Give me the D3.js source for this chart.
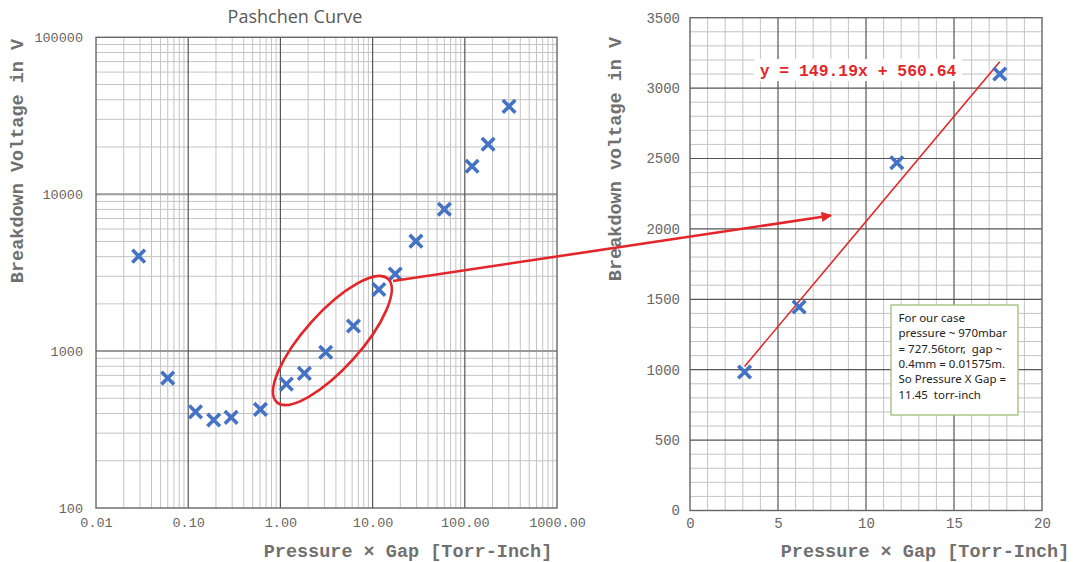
<!DOCTYPE html>
<html>
<head>
<meta charset="utf-8">
<script src="https://cdn.jsdelivr.net/npm/d3@7/dist/d3.min.js"></script>
<style>
  html, body { margin: 0; padding: 0; background: #fff; }
  svg { display: block; }
</style>
</head>
<body>
<svg id="chart" width="1073" height="562"></svg>
<script>
// ---------- DATA ----------
const pdValues = [0.029, 0.06, 0.12, 0.189, 0.292, 0.607, 1.16, 1.82, 3.1, 6.2, 11.7, 17.6, 29.5, 60, 120, 179, 302];
const voltValues = [4030, 673, 410, 364, 378, 425, 616, 721, 984, 1445, 2470, 3100, 5020, 8020, 15070, 20800, 36300];

const zoomPd = [3.1, 6.2, 11.75, 17.6];
const zoomVolt = [984, 1445, 2470, 3100];

const fitSlope = 149.19;
const fitIntercept = 560.64;

const leftXTicks = [0.01, 0.1, 1, 10, 100, 1000];
const leftXTickLabels = ["0.01", "0.10", "1.00", "10.00", "100.00", "1000.00"];
const leftYTicks = [100, 1000, 10000, 100000];
const leftYTickLabels = ["100", "1000", "10000", "100000"];
const rightXTicks = [0, 5, 10, 15, 20];
const rightYTicks = [0, 500, 1000, 1500, 2000, 2500, 3000, 3500];

const chartTitle = "Pashchen Curve";
const xTitle = "Pressure \u00d7 Gap [Torr-Inch]";
const leftYTitle = "Breakdown Voltage in V";
const rightYTitle = "Breakdown voltage in V";
const equationText = "y = 149.19x + 560.64";
const noteLines = ["For our case", "pressure ~ 970mbar", "= 727.56torr,  gap ~", "0.4mm = 0.01575m.", "So Pressure X Gap =", "11.45  torr-inch"];

// ---------- SETUP ----------
const svg = d3.select("#chart");
const BLUE = "#4472c4", RED = "#e3262a";
const MONO = "'Liberation Mono', 'Courier New', monospace";

const defs = svg.append("defs");
defs.append("marker").attr("id", "arrow")
  .attr("viewBox", "0 0 10 10").attr("refX", 9).attr("refY", 5)
  .attr("markerWidth", 4.5).attr("markerHeight", 4).attr("markerUnits", "strokeWidth")
  .attr("orient", "auto")
  .append("path").attr("d", "M0,0 L10,5 L0,10 z").attr("fill", RED);

function drawX(g, data, xs, ys) {
  const s = 6.3;
  g.selectAll("path.mk").data(data).join("path").attr("class", "mk")
    .attr("d", d => {
      const x = xs(d[0]), y = ys(d[1]);
      return `M${x - s},${y - s}L${x + s},${y + s}M${x - s},${y + s}L${x + s},${y - s}`;
    })
    .attr("stroke", BLUE).attr("stroke-width", 3.6).attr("fill", "none");
}

// ---------- LEFT CHART (log-log) ----------
const lx = d3.scaleLog().domain([0.01, 1000]).range([96, 557]);
const ly = d3.scaleLog().domain([100, 100000]).range([508, 37.3]);

const L = svg.append("g");
const minorX = [], minorY = [];
[0.01, 0.1, 1, 10, 100].forEach(d => { for (let k = 2; k <= 9; k++) minorX.push(d * k); });
[100, 1000, 10000].forEach(d => { for (let k = 2; k <= 9; k++) minorY.push(d * k); });

L.selectAll("line.mnx").data(minorX).join("line")
  .attr("x1", d => lx(d)).attr("x2", d => lx(d)).attr("y1", ly(100)).attr("y2", ly(100000))
  .attr("stroke", "#c4c4c4").attr("stroke-width", 1);
L.selectAll("line.mny").data(minorY).join("line")
  .attr("y1", d => ly(d)).attr("y2", d => ly(d)).attr("x1", lx(0.01)).attr("x2", lx(1000))
  .attr("stroke", "#c4c4c4").attr("stroke-width", 1);
L.selectAll("line.mjy").data([1000, 10000]).join("line")
  .attr("y1", d => ly(d)).attr("y2", d => ly(d)).attr("x1", lx(0.01)).attr("x2", lx(1000))
  .attr("stroke", "#9a9a9a").attr("stroke-width", 2);
L.selectAll("line.mjx").data([0.1, 1, 10, 100]).join("line")
  .attr("x1", d => lx(d)).attr("x2", d => lx(d)).attr("y1", ly(100)).attr("y2", ly(100000))
  .attr("stroke", "#555").attr("stroke-width", 1.2);
L.append("rect").attr("x", lx(0.01)).attr("y", ly(100000))
  .attr("width", lx(1000) - lx(0.01)).attr("height", ly(100) - ly(100000))
  .attr("fill", "none").attr("stroke", "#666").attr("stroke-width", 1.4);

const lxAxis = L.append("g").attr("transform", `translate(0,${ly(100)})`)
  .call(d3.axisBottom(lx).tickValues(leftXTicks).tickSize(0).tickPadding(9)
    .tickFormat((d, i) => leftXTickLabels[i]));
const lyAxis = L.append("g").attr("transform", `translate(${lx(0.01)},0)`)
  .call(d3.axisLeft(ly).tickValues(leftYTicks).tickSize(0).tickPadding(13)
    .tickFormat((d, i) => leftYTickLabels[i]));
[lxAxis, lyAxis].forEach(a => {
  a.select(".domain").remove();
  a.selectAll("text").attr("font-family", MONO).attr("font-size", 13.5).attr("fill", "#666");
});

drawX(L.append("g"), pdValues.map((d, i) => [d, voltValues[i]]), lx, ly);

L.append("text").attr("x", 295).attr("y", 23).attr("text-anchor", "middle")
  .attr("font-family", "'Open Sans', sans-serif").attr("font-size", 18).attr("fill", "#595959")
  .text(chartTitle);
L.append("text").attr("x", 408).attr("y", 557).attr("text-anchor", "middle")
  .attr("font-family", MONO).attr("font-weight", "bold").attr("font-size", 18.5).attr("fill", "#707070")
  .text(xTitle);
L.append("text").attr("transform", "translate(23,161) rotate(-90)").attr("text-anchor", "middle")
  .attr("font-family", MONO).attr("font-weight", "bold").attr("font-size", 18.5).attr("fill", "#707070")
  .text(leftYTitle);

// ---------- RIGHT CHART (linear) ----------
const rx = d3.scaleLinear().domain([0, 20]).range([690, 1042]);
const ry = d3.scaleLinear().domain([0, 3500]).range([510.5, 17.7]);
const R = svg.append("g");

R.selectAll("line.mnx").data(d3.range(1, 20).filter(d => d % 5 !== 0)).join("line")
  .attr("x1", d => rx(d)).attr("x2", d => rx(d)).attr("y1", ry(0)).attr("y2", ry(3500))
  .attr("stroke", "#c4c4c4").attr("stroke-width", 1);
R.selectAll("line.mny").data(d3.range(100, 3500, 100).filter(d => d % 500 !== 0)).join("line")
  .attr("y1", d => ry(d)).attr("y2", d => ry(d)).attr("x1", rx(0)).attr("x2", rx(20))
  .attr("stroke", "#c4c4c4").attr("stroke-width", 1);
R.selectAll("line.mjx").data([5, 10, 15]).join("line")
  .attr("x1", d => rx(d)).attr("x2", d => rx(d)).attr("y1", ry(0)).attr("y2", ry(3500))
  .attr("stroke", "#555").attr("stroke-width", 1.2);
R.selectAll("line.mjy").data([500, 1000, 1500, 2000, 2500, 3000]).join("line")
  .attr("y1", d => ry(d)).attr("y2", d => ry(d)).attr("x1", rx(0)).attr("x2", rx(20))
  .attr("stroke", "#555").attr("stroke-width", 1.2);
R.append("rect").attr("x", rx(0)).attr("y", ry(3500))
  .attr("width", rx(20) - rx(0)).attr("height", ry(0) - ry(3500))
  .attr("fill", "none").attr("stroke", "#666").attr("stroke-width", 1.4);

const rxAxis = R.append("g").attr("transform", `translate(0,${ry(0)})`)
  .call(d3.axisBottom(rx).tickValues(rightXTicks).tickSize(0).tickPadding(8).tickFormat(d3.format("d")));
const ryAxis = R.append("g").attr("transform", `translate(${rx(0)},0)`)
  .call(d3.axisLeft(ry).tickValues(rightYTicks).tickSize(0).tickPadding(10).tickFormat(d3.format("d")));
[rxAxis, ryAxis].forEach(a => {
  a.select(".domain").remove();
  a.selectAll("text").attr("font-family", MONO).attr("font-size", 14).attr("fill", "#666");
});

// trendline
const xMin = d3.min(zoomPd), xMax = d3.max(zoomPd);
R.append("line")
  .attr("x1", rx(xMin)).attr("y1", ry(fitSlope * xMin + fitIntercept))
  .attr("x2", rx(xMax)).attr("y2", ry(fitSlope * xMax + fitIntercept))
  .attr("stroke", RED).attr("stroke-width", 1.6);

drawX(R.append("g"), zoomPd.map((d, i) => [d, zoomVolt[i]]), rx, ry);

// equation label
R.append("rect").attr("x", 754).attr("y", 59).attr("width", 208).attr("height", 22).attr("fill", "#fff");
R.append("text").attr("x", 858).attr("y", 75.5).attr("text-anchor", "middle")
  .attr("font-family", MONO).attr("font-weight", "bold").attr("font-size", 16.4).attr("fill", RED)
  .text(equationText);

// note box
R.append("rect").attr("x", 891).attr("y", 305).attr("width", 127).attr("height", 110)
  .attr("fill", "#fff").attr("stroke", "#9dbf7a").attr("stroke-width", 1.3);
R.append("g").selectAll("text").data(noteLines).join("text")
  .attr("x", 898.5).attr("y", (d, i) => 322 + i * 15.3)
  .attr("font-family", "'Noto Sans', sans-serif").attr("font-size", 11.5).attr("fill", "#222")
  .attr("xml:space", "preserve").style("white-space", "pre")
  .text(d => d);

R.append("text").attr("x", 925).attr("y", 557).attr("text-anchor", "middle")
  .attr("font-family", MONO).attr("font-weight", "bold").attr("font-size", 18.5).attr("fill", "#707070")
  .text(xTitle);
R.append("text").attr("transform", "translate(621,159) rotate(-90)").attr("text-anchor", "middle")
  .attr("font-family", MONO).attr("font-weight", "bold").attr("font-size", 18.5).attr("fill", "#707070")
  .text(rightYTitle);

// ---------- ANNOTATIONS ----------
const A = svg.append("g");
A.append("ellipse").attr("cx", 332.4).attr("cy", 340.5).attr("rx", 83).attr("ry", 28)
  .attr("transform", "rotate(-48,332.4,340.5)")
  .attr("fill", "none").attr("stroke", RED).attr("stroke-width", 2.6);
A.append("line").attr("x1", 393).attr("y1", 281).attr("x2", 831).attr("y2", 215.5)
  .attr("stroke", RED).attr("stroke-width", 2.6).attr("marker-end", "url(#arrow)");
</script>
</body>
</html>
